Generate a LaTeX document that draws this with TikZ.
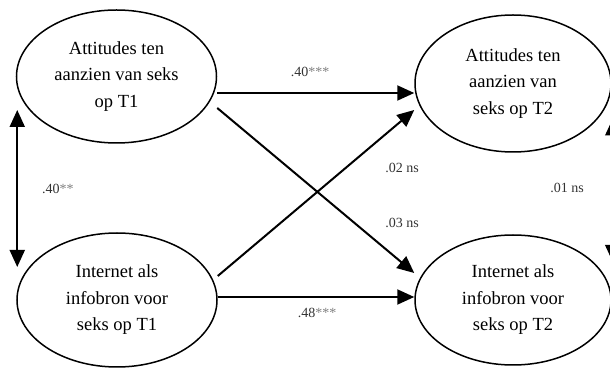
\documentclass[tikz,border=0pt]{standalone}
\usepackage{fontspec}
\setmainfont{Liberation Serif}
\usepackage{xcolor}
\usepackage{tikz}
\usetikzlibrary{shapes.geometric,arrows.meta}
\tikzstyle{var}=[draw, ellipse, line width=.75pt, inner sep=0pt, align=center, font=\fontsize{9.25}{13.25}\selectfont]
\tikzstyle{coef}=[draw=none, inner sep=.2mm, text=black!80, font=\fontsize{7}{8}\selectfont]
\tikzstyle{arr}=[line width=1pt, -{Triangle[length=8.5pt,width=7.5pt]}]
\tikzstyle{dbl}=[line width=1pt, {Triangle[length=8.5pt,width=7.5pt]}-{Triangle[length=8.5pt,width=7.5pt]}]
\newcommand{\st}[1]{\textcolor{gray}{#1}}

\begin{document}
\begin{tikzpicture}[x=.5pt, y=-.5pt]
\useasboundingbox (0,0) rectangle (610,368);
\node[var, minimum width=100pt, minimum height=66.5pt] (a1) at (116.5,76.5) {Attitudes ten\\aanzien van seks\\op T1};
\node[var, minimum width=100pt, minimum height=67pt] (i1) at (117,300) {Internet als\\infobron voor\\seks op T1};
\node[var, minimum width=98pt, minimum height=68.5pt] (a2) at (513,83.5) {Attitudes ten\\aanzien van\\seks op T2};
\node[var, minimum width=98pt, minimum height=65pt] (i2) at (513,300) {Internet als\\infobron voor\\seks op T2};
% paden
\coordinate (s1) at ([yshift=-8.25pt]a1.east);
\coordinate (s2) at ([yshift=1.5pt]i1.east);
\draw[arr] (s1) -- (a2.west |- s1);
\draw[arr] (s2) -- (i2.west |- s2);
\draw[arr] ([yshift=-15.75pt]a1.east) -- ([yshift=13.5pt]i2.west);
\draw[arr] ([yshift=12pt]i1.east) -- ([yshift=-13.25pt]a2.west);
\draw[dbl] ([shift={(.75pt,-16.75pt)}]a1.west) -- ([shift={(.5pt,16.5pt)}]i1.west);
\draw[dbl] ([shift={(.5pt,-17.5pt)}]a2.east) -- ([shift={(.5pt,19pt)}]i2.east);
% coefficienten
\node[coef] (c1) at (310,72) {.40\st{***}};
\node[coef] (c2) at (317,313) {.48\st{***}};
\node[coef] (c3) at (402,168) {.02 ns};
\node[coef] (c4) at (402,223) {.03 ns};
\node[coef] (c5) at (567,188) {.01 ns};
\node[coef] (c6) at (58,189) {.40\st{**}};
\end{tikzpicture}
\end{document}
